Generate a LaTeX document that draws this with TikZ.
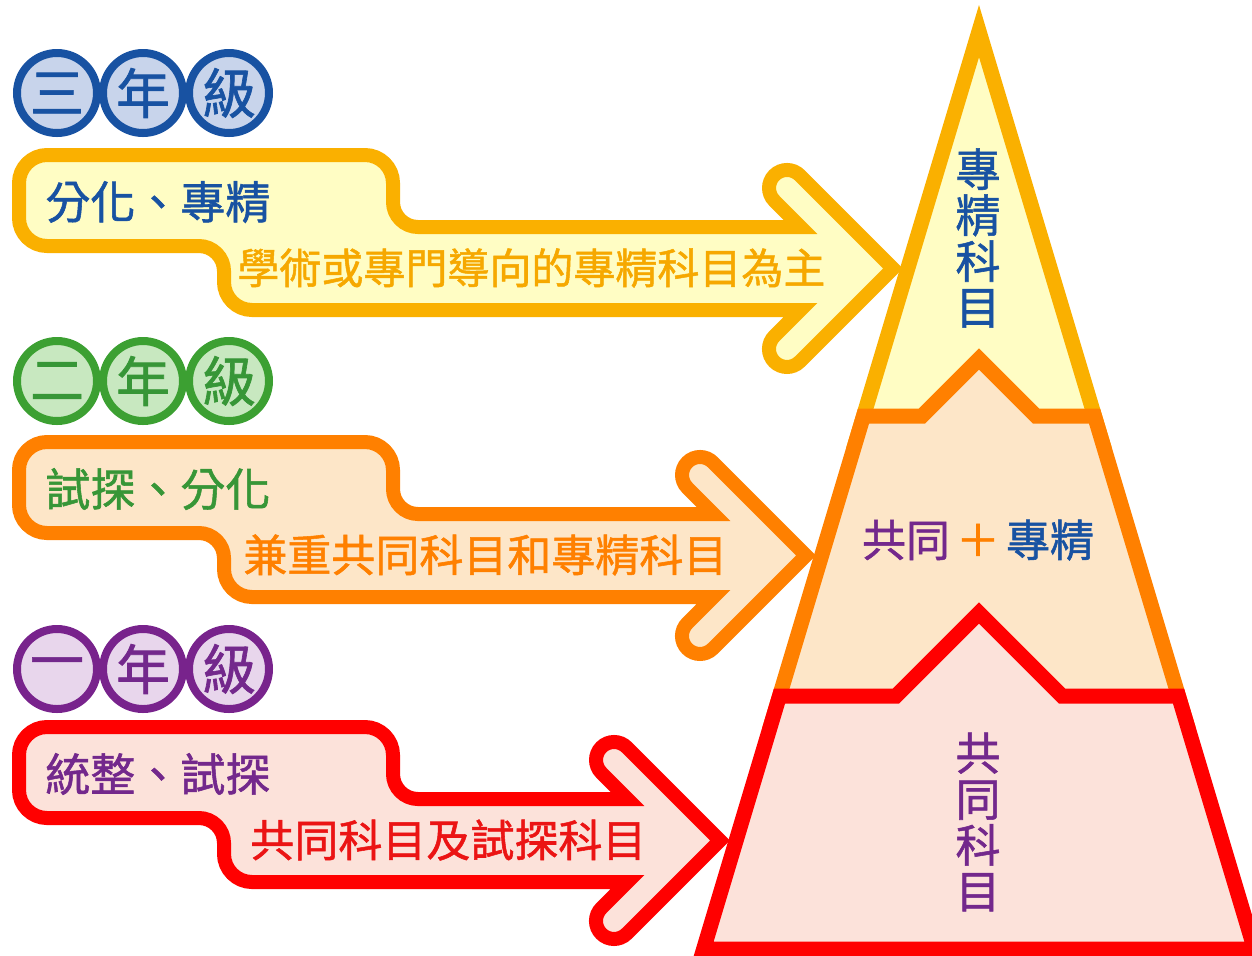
\documentclass[tikz,border=0pt]{standalone}
\usepackage{fontspec}
\setmainfont[FakeBold=1.2]{Noto Sans CJK TC}
\definecolor{amber}{RGB}{250,176,0}
\definecolor{amberfill}{RGB}{255,253,196}
\definecolor{amberText}{RGB}{246,168,0}
\definecolor{orng}{RGB}{255,128,0}
\definecolor{orngfill}{RGB}{253,230,200}
\definecolor{rd}{RGB}{255,0,0}
\definecolor{rdfill}{RGB}{252,226,218}
\definecolor{rdText}{RGB}{235,20,20}
\definecolor{blu}{RGB}{24,82,162}
\definecolor{blufill}{RGB}{200,212,235}
\definecolor{grn}{RGB}{60,160,50}
\definecolor{grnfill}{RGB}{200,232,192}
\definecolor{grnText}{RGB}{55,150,55}
\definecolor{prp}{RGB}{120,35,140}
\definecolor{prpfill}{RGB}{232,214,236}
\definecolor{prpText}{RGB}{115,40,140}
\newcommand\bandshape[2]{%
\path[#1] (19,200) -- (19,183) .. controls (19,167.6) and (31.6,155) .. (47,155)
 -- (365,155) .. controls (380.4,155) and (393,167.6) .. (393,183)
 -- (393,202) .. controls (393,215.75) and (404.25,227) .. (418,227)
 -- ({800.5-#2},227) -- ({774.3-#2},200.7) arc[start angle=135, end angle=315, radius=18]
 -- ({893-#2},268.5) -- ({799.7-#2},361.7) arc[start angle=45, end angle=225, radius=18]
 -- ({800.5-#2},310) -- (252,310) .. controls (236.6,310) and (224,297.4) .. (224,282)
 -- (224,271) .. controls (224,257.25) and (212.75,246) .. (199,246)
 -- (47,246) .. controls (31.6,246) and (19,233.4) .. (19,218) -- cycle;}
\begin{document}
\begin{tikzpicture}[x=0.5pt,y=-0.5pt,
  bandstroke/.style={line width=7pt, line join=miter},
  pyr/.style={line width=7.5pt, line join=miter},
  grade/.style={circle, minimum size=40pt, inner sep=0pt, line width=4pt, font=\fontsize{27pt}{27pt}\selectfont},
  bigtxt/.style={anchor=west, inner sep=0pt, font=\fontsize{22.5pt}{27pt}\selectfont},
  subtxt/.style={anchor=west, inner sep=0pt, font=\fontsize{22pt}{26pt}\selectfont},
  vtxt/.style={align=center, inner sep=0pt, font=\fontsize{22.5pt}{23pt}\selectfont}]
\useasboundingbox (0,0) rectangle (1252,955);
\clip (0,0) rectangle (1252,955);
% pyramid
\path[pyr, draw=amber, fill=amberfill] (979,31.1) -- (856.3,440) -- (1101.7,440) -- cycle;
\path[pyr, draw=orng, fill=orngfill] (863.5,416) -- (922,416) -- (979,359) -- (1036,416) -- (1094.5,416) -- (1185.7,720) -- (772.3,720) -- cycle;
\path[pyr, draw=rd, fill=rdfill] (779.5,696) -- (896,696) -- (979,613) -- (1062,696) -- (1178.5,696) -- (1254.4,949) -- (703.6,949) -- cycle;
\node[vtxt, text=blu] (ptop) at (978,238) {專\\精\\科\\目};
\node[inner sep=0pt, font=\fontsize{22pt}{26pt}\selectfont] (pmid) at (978,540) {\textcolor{prpText}{共同}\hspace{3pt}\textcolor{orng}{＋}\hspace{3pt}\textcolor{blu}{專精}};
\node[vtxt, text=prpText] (pbot) at (978,822) {共\\同\\科\\目};
% bands
\bandshape{bandstroke, draw=amber, fill=amberfill}{0}
\begin{scope}[shift={(0,287)}]
\bandshape{bandstroke, draw=orng, fill=orngfill}{87}
\end{scope}
\begin{scope}[shift={(0,572)}]
\bandshape{bandstroke, draw=rd, fill=rdfill}{173}
\end{scope}
% grade circles
\node[grade, draw=blu, fill=blufill, text=blu] (g3a) at (57,93) {三};
\node[grade, draw=blu, fill=blufill, text=blu] (g3b) at (143,93) {年};
\node[grade, draw=blu, fill=blufill, text=blu] (g3c) at (229,93) {級};
\node[grade, draw=grn, fill=grnfill, text=grnText] (g2a) at (57,381) {二};
\node[grade, draw=grn, fill=grnfill, text=grnText] (g2b) at (143,381) {年};
\node[grade, draw=grn, fill=grnfill, text=grnText] (g2c) at (229,381) {級};
\node[grade, draw=prp, fill=prpfill, text=prpText] (g1a) at (57,669) {一};
\node[grade, draw=prp, fill=prpfill, text=prpText] (g1b) at (143,669) {年};
\node[grade, draw=prp, fill=prpfill, text=prpText] (g1c) at (229,669) {級};
% band texts
\node[bigtxt, text=blu] (t3) at (45,202) {分化、專精};
\node[subtxt, text=amberText, font=\fontsize{21pt}{25pt}\selectfont] (s3) at (237,268) {學術或專門導向的專精科目為主};
\node[bigtxt, text=grnText] (t2) at (45,489) {試探、分化};
\node[subtxt, text=orng] (s2) at (243,555) {兼重共同科目和專精科目};
\node[bigtxt, text=prpText] (t1) at (45,774) {統整、試探};
\node[subtxt, text=rdText] (s1) at (250,840) {共同科目及試探科目};
\end{tikzpicture}
\end{document}
